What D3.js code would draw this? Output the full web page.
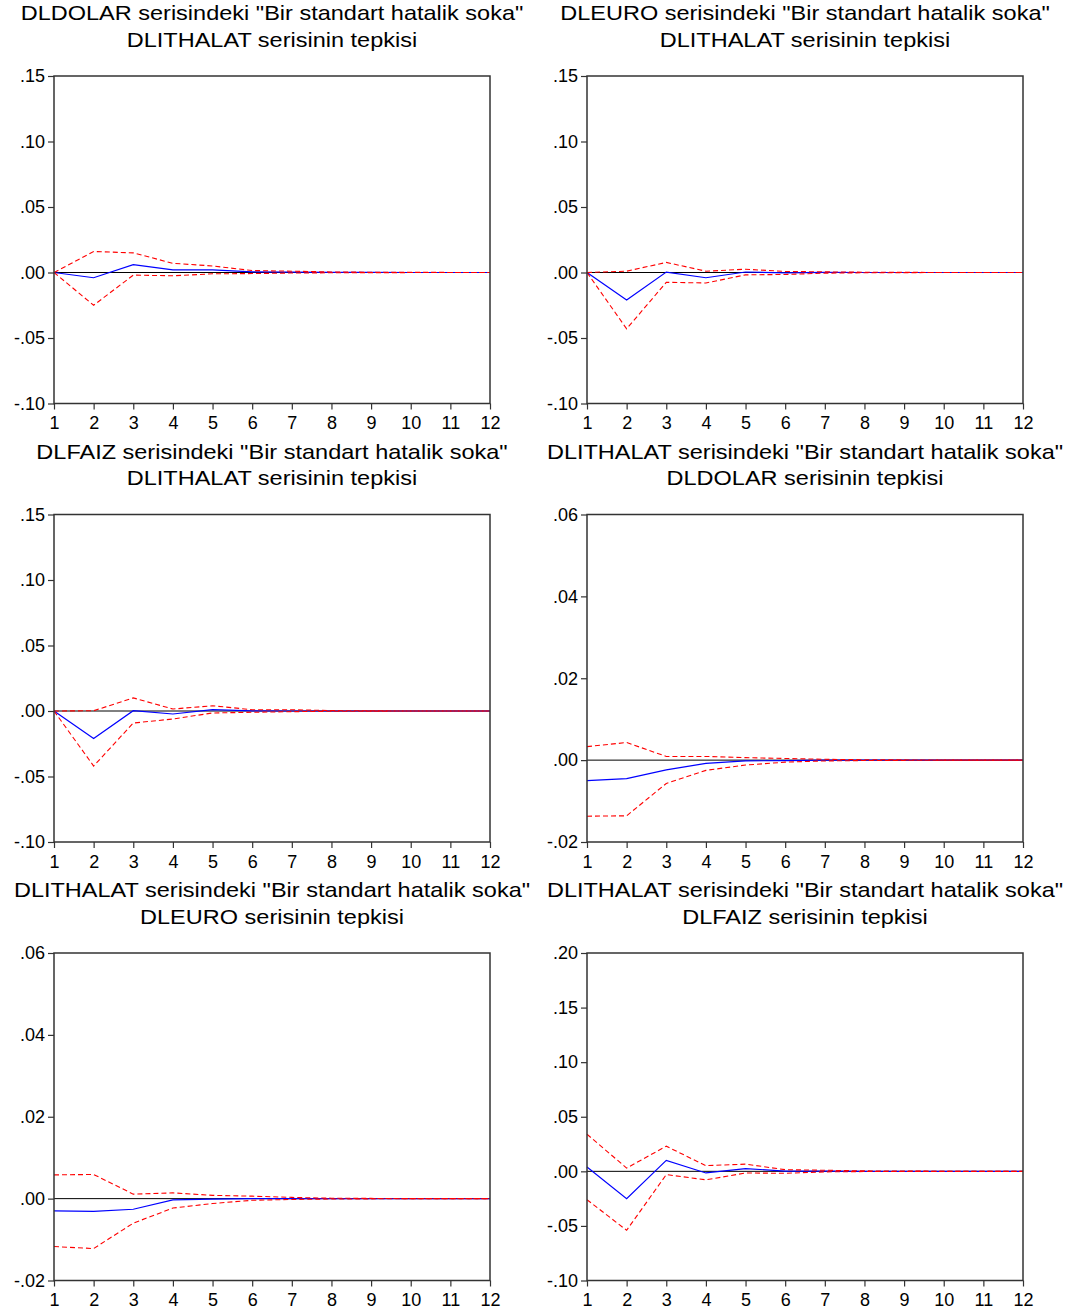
<!DOCTYPE html>
<html>
<head>
<meta charset="utf-8">
<script src="https://cdn.jsdelivr.net/npm/d3@7"></script>
<style>
  body { margin: 0; background: #fff; }
  svg { display: block; }
  text { font-family: "Liberation Sans", Arial, sans-serif; }
</style>
</head>
<body>
<svg id="chart"></svg>
<script>
// Periods on the x axis
const periods = [1, 2, 3, 4, 5, 6, 7, 8, 9, 10, 11, 12];

// Y tick labels per panel
const ticksWide = [-0.10, -0.05, 0.00, 0.05, 0.10, 0.15];
const ticksNarrow = [-0.02, 0.00, 0.02, 0.04, 0.06];
const ticksFaiz = [-0.10, -0.05, 0.00, 0.05, 0.10, 0.15, 0.20];

// Panel titles
const shock = ' serisindeki "Bir standart hatalik soka"';
const reply = ' serisinin tepkisi';

// DLDOLAR -> DLITHALAT
const dolarImpResp = [0, -0.004, 0.006, 0.002, 0.002, 0.0005, 0.0003, 0.0001, 0.00005, 0, 0, 0];
const dolarImpUpper = [0, 0.016, 0.015, 0.007, 0.005, 0.0015, 0.001, 0.0004, 0.0002, 0.0001, 0.00005, 0];
const dolarImpLower = [0, -0.025, -0.002, -0.0025, -0.001, -0.0008, -0.0004, -0.0002, -0.0001, -0.00005, 0, 0];

// DLEURO -> DLITHALAT
const euroImpResp = [0, -0.021, 0.0003, -0.004, 0.0004, -0.0003, 0.0001, 0, 0, 0, 0, 0];
const euroImpUpper = [0, 0.001, 0.0077, 0.001, 0.0025, 0.0008, 0.0005, 0.0002, 0.0001, 0, 0, 0];
const euroImpLower = [0, -0.043, -0.0075, -0.008, -0.0018, -0.0015, -0.0005, -0.0002, -0.0001, 0, 0, 0];

// DLFAIZ -> DLITHALAT
const faizImpResp = [0, -0.021, 0.0002, -0.0023, 0.001, 0.0001, 0, 0, 0, 0, 0, 0];
const faizImpUpper = [0, 0.0002, 0.010, 0.0015, 0.004, 0.001, 0.001, 0.0003, 0.0001, 0, 0, 0];
const faizImpLower = [0, -0.042, -0.0092, -0.0061, -0.0015, -0.001, -0.0005, -0.0002, -0.0001, 0, 0, 0];

// DLITHALAT -> DLDOLAR
const impDolarResp = [-0.005, -0.0045, -0.0024, -0.0008, -0.0002, -0.0001, 0, 0, 0, 0, 0, 0];
const impDolarUpper = [0.0033, 0.0043, 0.0009, 0.0009, 0.0006, 0.0004, 0.0002, 0.0001, 0.00005, 0, 0, 0];
const impDolarLower = [-0.0137, -0.0136, -0.0057, -0.0025, -0.0012, -0.0005, -0.0002, -0.0001, -0.00005, 0, 0, 0];

// DLITHALAT -> DLEURO
const impEuroResp = [-0.003, -0.0031, -0.0026, -0.0003, -0.0001, 0, 0, 0, 0, 0, 0, 0];
const impEuroUpper = [0.0058, 0.0059, 0.0011, 0.0014, 0.0008, 0.0006, 0.0003, 0.0001, 0.00005, 0, 0, 0];
const impEuroLower = [-0.0117, -0.0122, -0.006, -0.0023, -0.0012, -0.0004, -0.0002, -0.0001, -0.00005, 0, 0, 0];

// DLITHALAT -> DLFAIZ
const impFaizResp = [0.004, -0.025, 0.010, -0.0015, 0.0025, 0.0002, 0.0001, 0, 0, 0, 0, 0];
const impFaizUpper = [0.034, 0.003, 0.023, 0.0052, 0.0066, 0.0015, 0.001, 0.0004, 0.0002, 0.0001, 0, 0];
const impFaizLower = [-0.026, -0.054, -0.003, -0.0078, -0.0015, -0.0018, -0.0005, -0.0002, -0.0001, 0, 0, 0];

const panels = [
  { title: ['DLDOLAR' + shock, 'DLITHALAT' + reply], ticks: ticksWide, resp: dolarImpResp, upper: dolarImpUpper, lower: dolarImpLower },
  { title: ['DLEURO' + shock, 'DLITHALAT' + reply], ticks: ticksWide, resp: euroImpResp, upper: euroImpUpper, lower: euroImpLower },
  { title: ['DLFAIZ' + shock, 'DLITHALAT' + reply], ticks: ticksWide, resp: faizImpResp, upper: faizImpUpper, lower: faizImpLower },
  { title: ['DLITHALAT' + shock, 'DLDOLAR' + reply], ticks: ticksNarrow, resp: impDolarResp, upper: impDolarUpper, lower: impDolarLower },
  { title: ['DLITHALAT' + shock, 'DLEURO' + reply], ticks: ticksNarrow, resp: impEuroResp, upper: impEuroUpper, lower: impEuroLower },
  { title: ['DLITHALAT' + shock, 'DLFAIZ' + reply], ticks: ticksFaiz, resp: impFaizResp, upper: impFaizUpper, lower: impFaizLower },
];

const width = 1083;
const height = 1315;
const plotW = 436;
const plotH = 327.5;
const colX = [54, 587];
const rowY = [76, 514.5, 953];
const frameColor = '#333';

const svg = d3.select('#chart').attr('width', width).attr('height', height);

// ".15", "-.05" style labels (plain hyphen, no leading zero)
const fmtY = (d) => d3.format('.2f')(d).replace('\u2212', '-').replace('0.', '.');

panels.forEach((p, i) => {
  const g = svg.append('g')
    .attr('transform', `translate(${colX[i % 2]},${rowY[Math.floor(i / 2)]})`);

  const x = d3.scaleLinear().domain([1, 12]).range([0, plotW]);
  const y = d3.scaleLinear().domain(d3.extent(p.ticks)).range([plotH, 0]);

  // Title, two lines
  g.append('text')
    .attr('transform', `translate(${plotW / 2},-56) scale(1.12,1)`)
    .attr('text-anchor', 'middle')
    .attr('font-size', 21)
    .text(p.title[0]);
  g.append('text')
    .attr('transform', `translate(${plotW / 2},-29.5) scale(1.12,1)`)
    .attr('text-anchor', 'middle')
    .attr('font-size', 21)
    .text(p.title[1]);

  // Zero line
  g.append('line')
    .attr('x1', x(1)).attr('x2', x(12))
    .attr('y1', y(0)).attr('y2', y(0))
    .attr('stroke', '#000');

  const line = d3.line().x((d, k) => x(periods[k])).y((d) => y(d));

  g.append('path').datum(p.resp)
    .attr('d', line).attr('fill', 'none')
    .attr('stroke', '#0000ff').attr('stroke-width', 1.2);

  [p.upper, p.lower].forEach((band) => {
    g.append('path').datum(band)
      .attr('d', line).attr('fill', 'none')
      .attr('stroke', '#ff0000').attr('stroke-width', 1.1)
      .attr('stroke-dasharray', '5,3');
  });

  // Axes
  const yAxis = g.append('g')
    .call(d3.axisLeft(y).tickValues(p.ticks).tickFormat(fmtY).tickSize(6).tickPadding(3));
  const xAxis = g.append('g')
    .attr('transform', `translate(0,${plotH})`)
    .call(d3.axisBottom(x).tickValues(periods).tickFormat(d3.format('d')).tickSize(6).tickPadding(7));

  [yAxis, xAxis].forEach((a) => {
    a.select('.domain').remove();
    a.selectAll('.tick line').attr('stroke', frameColor).attr('stroke-width', 1.2);
    a.selectAll('text')
      .attr('font-family', '"Liberation Sans", Arial, sans-serif')
      .attr('font-size', 18)
      .attr('fill', '#000');
  });

  // Frame around the plot
  g.append('rect')
    .attr('x', x(1)).attr('y', y(p.ticks[p.ticks.length - 1]))
    .attr('width', x(12) - x(1)).attr('height', y(p.ticks[0]) - y(p.ticks[p.ticks.length - 1]))
    .attr('fill', 'none')
    .attr('stroke', frameColor)
    .attr('stroke-width', 1.5);
});
</script>
</body>
</html>
